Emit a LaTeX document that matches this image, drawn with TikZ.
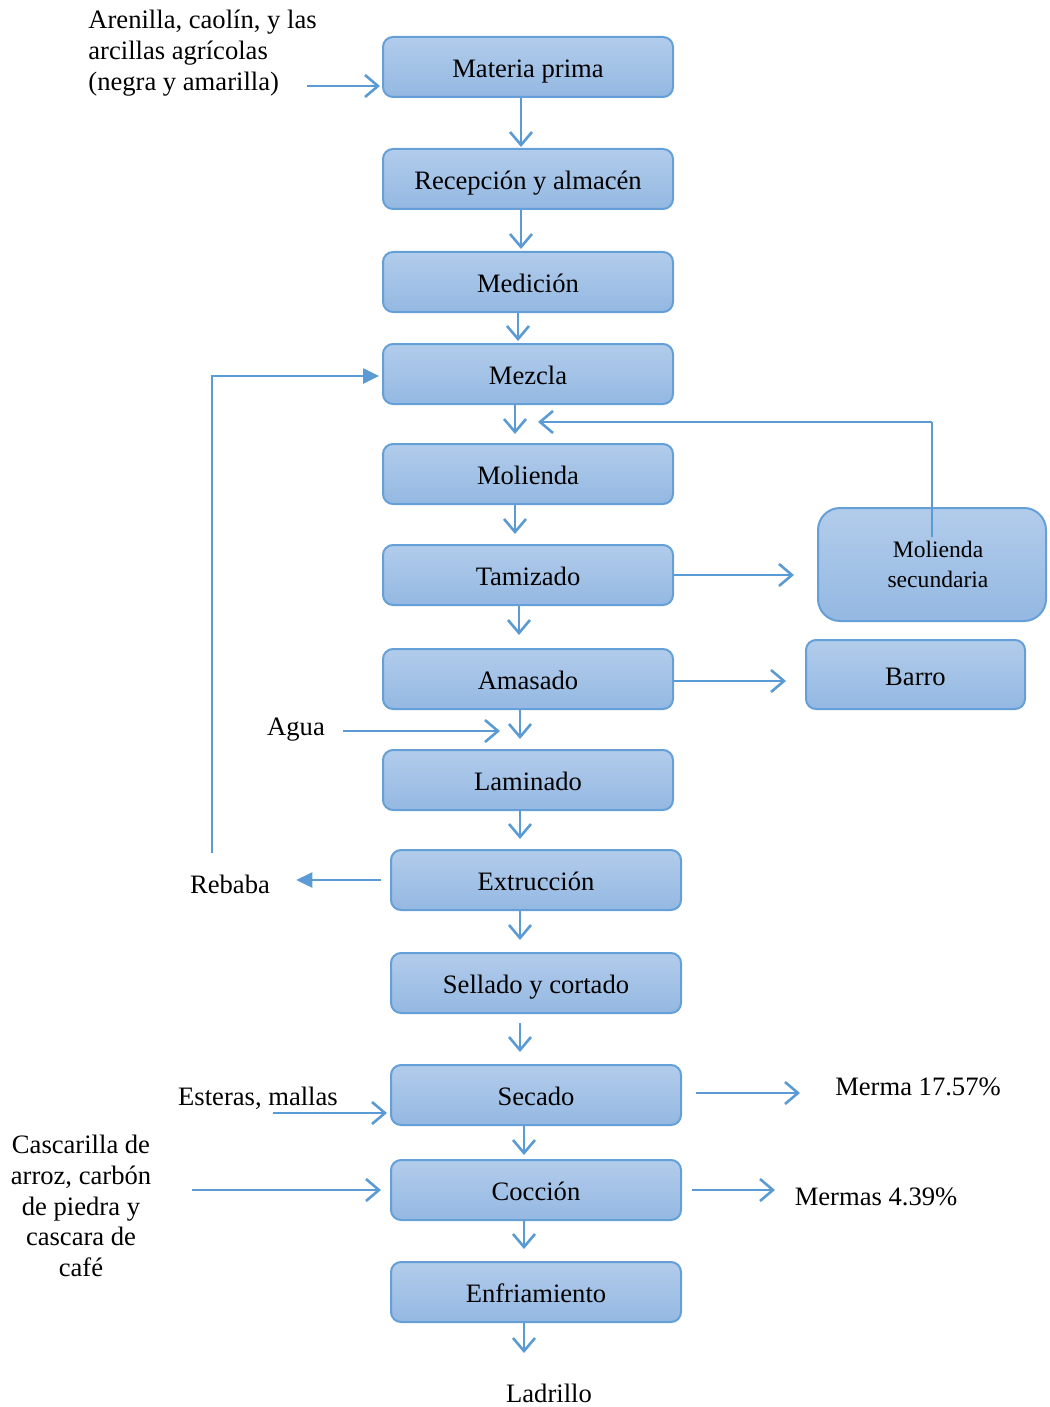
\documentclass[tikz,border=0pt]{standalone}
\usepackage{fontspec}
\setmainfont{Liberation Serif}
\usetikzlibrary{arrows.meta}
\definecolor{lineblue}{RGB}{91,155,213}
\definecolor{boxtop}{RGB}{178,204,235}
\definecolor{boxbot}{RGB}{148,184,226}
\definecolor{boxedge}{RGB}{100,160,215}
\tikzset{
  every node/.style={font=\fontsize{13.3}{15.3}\selectfont, inner sep=0pt},
  procbox/.style={draw=boxedge, line width=1pt, rounded corners=5pt,
    top color=boxtop, bottom color=boxbot, minimum width=145pt, minimum height=30pt,
    text height=12.5pt, text depth=2pt},
  arr/.style={draw=lineblue, line width=1.3pt, -{Straight Barb[length=6.5pt,width=11pt,line width=1.3pt]}},
  tri/.style={draw=lineblue, line width=1.3pt, -{Triangle[length=8pt,width=7.5pt]}},
  plainline/.style={draw=lineblue, line width=1.3pt},
  lbl/.style={align=center}
}
\begin{document}
\begin{tikzpicture}[x=0.5pt,y=-0.5pt]
\useasboundingbox (0,0) rectangle (1049,1407);
% process boxes
\node[procbox] (mp)  at (528,67)   {Materia prima};
\node[procbox] (rec) at (528,179)  {Recepción y almacén};
\node[procbox] (med) at (528,282)  {Medición};
\node[procbox] (mez) at (528,374)  {Mezcla};
\node[procbox] (mol) at (528,474)  {Molienda};
\node[procbox] (tam) at (528,575)  {Tamizado};
\node[procbox] (ama) at (528,679)  {Amasado};
\node[procbox] (lam) at (528,780)  {Laminado};
\node[procbox] (ext) at (536,880)  {Extrucción};
\node[procbox] (sel) at (536,983)  {Sellado y cortado};
\node[procbox] (sec) at (536,1095) {Secado};
\node[procbox] (coc) at (536,1190) {Cocción};
\node[procbox] (enf) at (536,1292) {Enfriamiento};
\node[procbox, minimum width=114pt, minimum height=56.5pt, rounded corners=11pt,
      text height=, text depth=,
      font=\fontsize{11.8}{15}\selectfont, align=center] (msec) at (932,564.5) {\hspace*{6pt}Molienda\\\hspace*{6pt}secundaria};
\node[procbox, minimum width=109.5pt, minimum height=34.5pt] (barro) at (915.5,674.5) {Barro};

% text labels
\node[align=left, anchor=north west] (in1) at (88,10) {Arenilla, caolín, y las\\arcillas agrícolas\\(negra y amarilla)};
\node (agua) at (296,730) {Agua};
\node (reb) at (230,884) {Rebaba};
\node (est) at (258,1098) {Esteras, mallas};
\node[lbl] (cas) at (81,1206) {Cascarilla de\\arroz, carbón\\de piedra y\\cascara de\\café};
\node (merma1) at (918,1087) {Merma 17.57\%};
\node (merma2) at (876,1197) {Mermas 4.39\%};
\node (lad) at (549,1393) {Ladrillo};

% free ends
\coordinate (inA) at (307,86);
\coordinate (aguaA) at (343,731);
\coordinate (aguaB) at (500,731);
\coordinate (fbA) at (932,537);
\coordinate (fbB) at (932,422);
\coordinate (fbC) at (538,422);
\coordinate (rebA) at (212,853);
\coordinate (secA) at (696,1093);
\coordinate (secB) at (800,1093);
\coordinate (estA) at (273,1113);
\coordinate (casA) at (192,1190);
\coordinate (cocA) at (692,1190);
\coordinate (cocB) at (775,1190);
\coordinate (ladA) at (524,1353);

% main vertical flow
\draw[arr, shorten >=0.5pt] ([xshift=-3.5pt]mp.south) -- ([xshift=-3.5pt]rec.north);
\draw[arr, shorten >=1pt] ([xshift=-3.5pt]rec.south) -- ([xshift=-3.5pt]med.north);
\draw[arr, shorten >=1pt] ([xshift=-5pt]med.south) -- ([xshift=-5pt]mez.north);
\draw[arr, shorten >=4.5pt] ([xshift=-6.5pt]mez.south) -- ([xshift=-6.5pt]mol.north);
\draw[arr, shorten >=5pt] ([xshift=-6.5pt]mol.south) -- ([xshift=-6.5pt]tam.north);
\draw[arr, shorten >=6.5pt] ([xshift=-4.5pt]tam.south) -- ([xshift=-4.5pt]ama.north);
\draw[arr, shorten >=5pt] ([xshift=-4pt]ama.south) -- ([xshift=-4pt]lam.north);
\draw[arr, shorten >=5pt] ([xshift=-4pt]lam.south) -- ([xshift=-4pt]lam.south |- ext.north);
\draw[arr, shorten >=6pt] ([xshift=-8pt]ext.south) -- ([xshift=-8pt]sel.north);
\draw[arr, shorten <=4.5pt, shorten >=6pt] ([xshift=-8pt]sel.south) -- ([xshift=-8pt]sec.north);
\draw[arr, shorten >=2pt] ([xshift=-6pt]sec.south) -- ([xshift=-6pt]coc.north);
\draw[arr, shorten >=6pt] ([xshift=-6pt]coc.south) -- ([xshift=-6pt]enf.north);
\draw[arr] ([xshift=-6pt]enf.south) -- (ladA);

% side arrows
\draw[arr, shorten >=1pt] (inA) -- (mp.west |- inA);
\draw[plainline] (fbA) -- (fbB);
\draw[arr] (fbB) -- (fbC);
\draw[arr, shorten >=11.5pt] (tam.east) -- (msec.west |- tam.east);
\draw[arr, shorten >=9.5pt] ([yshift=-1pt]ama.east) -- ([yshift=-1pt]ama.east -| barro.west);
\draw[arr] (aguaA) -- (aguaB);
\draw[tri, shorten <=4.5pt, shorten >=13pt] (ext.west) -- (ext.west -| reb.east);
\draw[tri, shorten >=1.5pt] (rebA) |- ([yshift=-1pt]mez.west);
\draw[arr] (secA) -- (secB);
\draw[arr, shorten >=1.5pt] (estA) -- (sec.west |- estA);
\draw[arr, shorten >=4.5pt] (casA) -- (coc.west);
\draw[arr] (cocA) -- (cocB);
\end{tikzpicture}
\end{document}
